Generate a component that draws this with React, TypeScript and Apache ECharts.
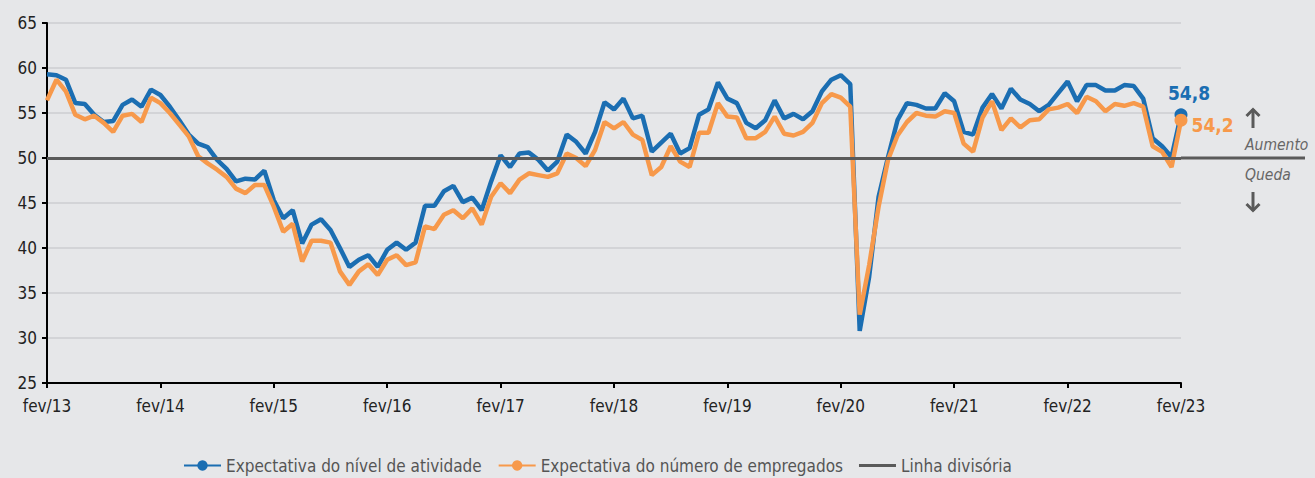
import React, { useEffect, useRef } from 'react';
import * as echarts from 'echarts';

const monthNames = ['jan', 'fev', 'mar', 'abr', 'mai', 'jun', 'jul', 'ago', 'set', 'out', 'nov', 'dez'];
const categories: string[] = [];
for (let i = 0; i <= 120; i++) {
  const m = (1 + i) % 12;
  const y = 13 + Math.floor((1 + i) / 12);
  categories.push(`${monthNames[m]}/${y}`);
}

const atividade = [
  59.3, 59.2, 58.7, 56.1, 56.0, 54.8, 54.0, 54.1, 55.9, 56.5, 55.7, 57.6,
  57.0, 55.7, 54.2, 52.6, 51.6, 51.2, 49.8, 48.8, 47.4, 47.7, 47.6, 48.6,
  45.3, 43.3, 44.2, 40.5, 42.6, 43.2, 42.0, 40.0, 37.9, 38.7, 39.2, 37.9,
  39.8, 40.6, 39.8, 40.6, 44.7, 44.7, 46.3, 46.9, 45.1, 45.6, 44.2, 47.4,
  50.3, 49.0, 50.5, 50.6, 49.8, 48.6, 49.6, 52.6, 51.8, 50.5, 52.9, 56.2,
  55.4, 56.6, 54.4, 54.7, 50.7, 51.7, 52.7, 50.5, 51.1, 54.8, 55.4, 58.4,
  56.6, 56.1, 53.9, 53.3, 54.2, 56.4, 54.4, 54.9, 54.3, 55.2, 57.4, 58.7,
  59.2, 58.2, 30.8, 36.8, 45.7, 50.1, 54.2, 56.1, 55.9, 55.5, 55.5, 57.2,
  56.3, 52.9, 52.6, 55.6, 57.1, 55.5, 57.7, 56.5, 56.0, 55.2, 55.9, 57.2,
  58.5, 56.3, 58.1, 58.1, 57.5, 57.5, 58.1, 58.0, 56.6, 52.2, 51.3, 50.1,
  54.8,
];

const empregados = [
  56.4, 58.7, 57.4, 54.8, 54.3, 54.7, 53.9, 52.9, 54.7, 54.9, 54.0, 56.7,
  56.1, 55.0, 53.7, 52.4, 50.2, 49.4, 48.7, 47.9, 46.6, 46.1, 47.0, 47.0,
  44.6, 41.8, 42.7, 38.5, 40.8, 40.8, 40.6, 37.4, 35.9, 37.4, 38.2, 37.0,
  38.7, 39.2, 38.1, 38.4, 42.4, 42.1, 43.7, 44.2, 43.3, 44.4, 42.6, 45.7,
  47.2, 46.1, 47.6, 48.3, 48.1, 47.9, 48.3, 50.5, 50.0, 49.1, 50.9, 54.0,
  53.3, 54.0, 52.6, 52.0, 48.1, 49.0, 51.3, 49.6, 49.0, 52.8, 52.8, 56.1,
  54.6, 54.5, 52.2, 52.2, 52.9, 54.6, 52.7, 52.5, 52.9, 53.9, 56.1, 57.1,
  56.7, 55.7, 32.6, 38.1, 44.6, 49.8, 52.5, 54.0, 55.0, 54.7, 54.6, 55.2,
  55.0, 51.6, 50.7, 54.5, 56.3, 53.1, 54.4, 53.4, 54.2, 54.3, 55.4, 55.6,
  56.0, 55.0, 56.8, 56.3, 55.2, 56.0, 55.8, 56.1, 55.7, 51.3, 50.7, 49.0,
  54.2,
];

const dividingValue = 50;
const yMin = 25;
const yMax = 65;
const yStep = 5;

const BLUE = '#1b6eb2';
const ORANGE = '#f7994b';
const GRAY = '#5a5a5a';
const BG = '#e6e7e9';
const FONT = "'Liberation Sans Narrow','DejaVu Sans Condensed','Roboto Condensed',Roboto,sans-serif";

const fmt = (v: number) => String(v).replace('.', ',');

function lastLabeled(values: number[], color: string, label: any) {
  const last = values.length - 1;
  return values.map((v, i) =>
    i === last
      ? {
          value: v,
          symbol: 'circle',
          symbolSize: 13,
          itemStyle: { color },
          label: {
            show: true,
            formatter: () => fmt(v),
            color,
            fontFamily: FONT,
            fontWeight: 'bold',
            fontSize: 19,
            ...label,
          },
        }
      : v
  );
}

export default function App() {
  const ref = useRef<HTMLDivElement>(null);
  useEffect(() => {
    if (!ref.current) return;
    const chart = echarts.init(ref.current, undefined, { renderer: 'svg' });
    const last = atividade.length - 1;
    chart.setOption({
      animation: false,
      backgroundColor: BG,
      textStyle: { fontFamily: FONT },
      grid: { left: 47, right: 134, top: 23, bottom: 95 },
      legend: {
        left: 178,
        top: 452,
        itemWidth: 37,
        itemHeight: 13,
        itemGap: 16,
        textStyle: { color: '#555', fontSize: 17, fontFamily: FONT },
        data: [
          { name: 'Expectativa do nível de atividade' },
          { name: 'Expectativa do número de empregados' },
          { name: 'Linha divisória', icon: 'path://M0 0H40V3.2H0Z' },
        ],
      },
      xAxis: {
        type: 'category',
        data: categories,
        boundaryGap: false,
        axisLine: { lineStyle: { color: '#000', width: 2 } },
        axisTick: { interval: 11, length: 5, lineStyle: { color: '#000', width: 2 } },
        axisLabel: { interval: 11, color: '#222', fontSize: 17, margin: 14, fontFamily: FONT },
        splitLine: { show: false },
      },
      yAxis: {
        type: 'value',
        min: yMin,
        max: yMax,
        interval: yStep,
        axisLine: { show: true, lineStyle: { color: '#000', width: 2 } },
        axisTick: { show: true, length: 5, lineStyle: { color: '#000', width: 2 } },
        axisLabel: { color: '#222', fontSize: 17, margin: 10, fontFamily: FONT },
        splitLine: { lineStyle: { color: '#cdced1', width: 1.5 } },
      },
      series: [
        {
          name: 'Linha divisória',
          type: 'line',
          data: [],
          symbol: 'none',
          itemStyle: { color: GRAY },
          lineStyle: { color: GRAY, width: 3 },
          markLine: {
            silent: true,
            symbol: 'none',
            label: { show: false },
            lineStyle: { color: GRAY, width: 3, type: 'solid' },
            data: [{ yAxis: dividingValue }],
          },
          z: 1,
        },
        {
          name: 'Expectativa do número de empregados',
          type: 'line',
          data: lastLabeled(empregados, ORANGE, { position: 'right', distance: 4, offset: [0, 5] }),
          symbol: 'circle',
          symbolSize: (_v: any, p: any) => (p.dataIndex === last ? 13 : 0),
          showAllSymbol: true,
          itemStyle: { color: ORANGE },
          lineStyle: { color: ORANGE, width: 4.5 },
          z: 3,
        },
        {
          name: 'Expectativa do nível de atividade',
          type: 'line',
          data: lastLabeled(atividade, BLUE, { position: 'top', distance: 6, offset: [8, 0] }),
          symbol: 'circle',
          symbolSize: (_v: any, p: any) => (p.dataIndex === last ? 13 : 0),
          showAllSymbol: true,
          itemStyle: { color: BLUE },
          lineStyle: { color: BLUE, width: 4.5 },
          z: 2,
        },
      ],
    });

    const pEnd = chart.convertToPixel({ gridIndex: 0 } as any, [last, dividingValue]) as number[];
    const xEnd = pEnd[0];
    const y50 = pEnd[1];
    const annX = xEnd + 64;
    const ax = annX + 8;
    const arrowStyle = { stroke: GRAY, lineWidth: 3, fill: 'none', lineCap: 'butt', lineJoin: 'miter' };
    chart.setOption({
      graphic: [
        {
          type: 'line',
          shape: { x1: xEnd, y1: y50, x2: xEnd + 124, y2: y50 },
          style: { stroke: GRAY, lineWidth: 3 },
        },
        {
          type: 'line',
          shape: { x1: ax, y1: y50 - 49, x2: ax, y2: y50 - 30 },
          style: arrowStyle,
        },
        {
          type: 'polyline',
          shape: { points: [[ax - 6.5, y50 - 42], [ax, y50 - 48.5], [ax + 6.5, y50 - 42]] },
          style: arrowStyle,
        },
        {
          type: 'text',
          x: annX,
          y: y50 - 13,
          style: { text: 'Aumento', fill: '#666', font: `italic 15.5px ${FONT}`, align: 'left', verticalAlign: 'middle' },
        },
        {
          type: 'text',
          x: annX,
          y: y50 + 17,
          style: { text: 'Queda', fill: '#666', font: `italic 15.5px ${FONT}`, align: 'left', verticalAlign: 'middle' },
        },
        {
          type: 'line',
          shape: { x1: ax, y1: y50 + 34, x2: ax, y2: y50 + 53 },
          style: arrowStyle,
        },
        {
          type: 'polyline',
          shape: { points: [[ax - 6.5, y50 + 46], [ax, y50 + 52.5], [ax + 6.5, y50 + 46]] },
          style: arrowStyle,
        },
      ],
    });
    return () => chart.dispose();
  }, []);
  return (
    <div
      ref={ref}
      style={{ position: 'fixed', left: 0, top: 0, width: 1315, height: 478 }}
    />
  );
}
